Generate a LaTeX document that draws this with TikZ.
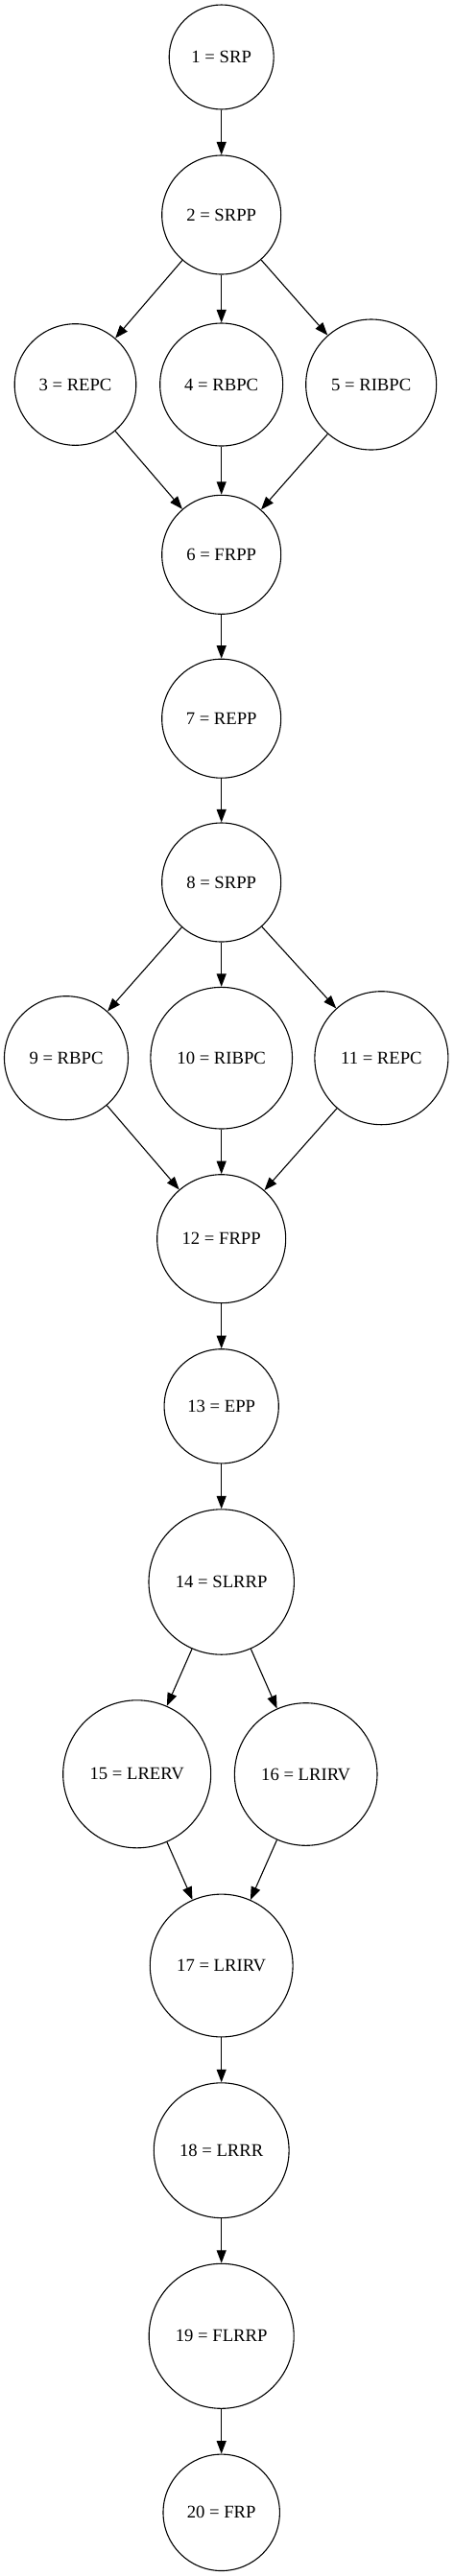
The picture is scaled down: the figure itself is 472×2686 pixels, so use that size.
\documentclass[tikz,border=0pt]{standalone}
\usepackage{fontspec}
\setmainfont{Liberation Serif}
\usepackage{tikz}
\usetikzlibrary{arrows.meta,positioning,automata}

\begin{document}
\begin{tikzpicture}[>={Triangle[length=13.5pt,width=10pt]},node distance=177pt,on grid,
	every state/.style={draw,line width=1.1pt,inner sep=0pt,font=\fontsize{18.67}{22}\selectfont}]
		\useasboundingbox (-230.7pt,59.5pt) rectangle (241.3pt,-2626.5pt);
		\node[state,minimum size=109pt]   (1)                                 {1 = SRP};
		\node[state,minimum size=124pt]   (2)  [below =164.5pt of 1]          {2 = SRPP};
		\node[state,minimum size=128pt]   (4)  [below =of 2]                  {4 = RBPC};
		\node[state,minimum size=126.6pt] (3)  [left =152.2pt of 4]           {3 = REPC};
		\node[state,minimum size=136pt]   (5)  [right =156pt of 4]            {5 = RIBPC};
		\node[state,minimum size=124pt]   (6)  [below =177.3pt of 4]          {6 = FRPP};
		\node[state,minimum size=124pt]   (7)  [below =170.9pt of 6]          {7 = REPP};
		\node[state,minimum size=124pt]   (8)  [below =170.8pt of 7]          {8 = SRPP};
		\node[state,minimum size=147.6pt] (10) [below =183.2pt of 8]          {10 = RIBPC};
		\node[state,minimum size=129pt]   (9)  [left =161.7pt of 10]          {9 = RBPC};
		\node[state,minimum size=139pt]   (11) [right =166.7pt of 10]         {11 = REPC};
		\node[state,minimum size=134pt]   (12) [below =188.5pt of 10]         {12 = FRPP};
		\node[state,minimum size=119.2pt] (13) [below =174.6pt of 12]         {13 = EPP};
		\node[state,minimum size=151.4pt] (14) [below =183.2pt of 13]         {14 = SLRRP};
		\node[state,minimum size=154pt]   (15) [below left =200.3pt and 88pt of 14]  {15 = LRERV};
		\node[state,minimum size=148.6pt] (16) [below right =200.5pt and 88pt of 14] {16 = LRIRV};
		\node[state,minimum size=148.8pt] (17) [below right =199.7pt and 88pt of 15] {17 = LRIRV};
		\node[state,minimum size=140.8pt] (18) [below =192.7pt of 17]         {18 = LRRR};
		\node[state,minimum size=151pt]   (19) [below =193.6pt of 18]         {19 = FLRRP};
		\node[state,minimum size=121.4pt] (20) [below =184pt of 19]           {20 = FRP};
		\tikzset{flow/.style={->,line width=1.1pt}}
		\path (1)  edge [flow] (2)
			  (2)  edge [flow] (3)
			  (2)  edge [flow] (4)
			  (2)  edge [flow] (5)
			  (3)  edge [flow] (6)
			  (4)  edge [flow] (6)
			  (5)  edge [flow] (6)
			  (6)  edge [flow] (7)
			  (7)  edge [flow] (8);
		\path (8)  edge [flow] (9)
			  (8)  edge [flow] (10)
			  (8)  edge [flow] (11)
			  (9)  edge [flow] (12)
			  (10) edge [flow] (12)
			  (11) edge [flow] (12)
			  (12) edge [flow] (13)
			  (13) edge [flow] (14);
		\path (14) edge [flow] (15)
			  (14) edge [flow] (16)
			  (15) edge [flow] (17)
			  (16) edge [flow] (17)
			  (17) edge [flow] (18)
			  (18) edge [flow] (19)
			  (19) edge [flow] (20);
	\end{tikzpicture}
\end{document}
